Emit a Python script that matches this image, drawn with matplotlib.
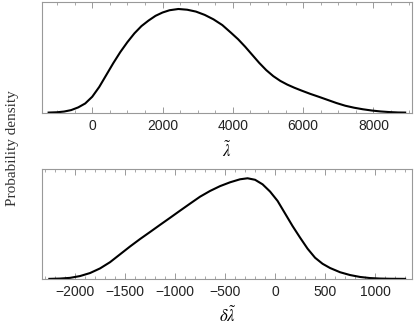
import matplotlib
matplotlib.use('Agg')
import matplotlib.pyplot as plt
from matplotlib.ticker import MultipleLocator

plt.rcParams['mathtext.fontset'] = 'stix'

# top panel: lambda tilde
lam_x = [-1241, -1000, -800, -600, -400, -200, 0, 200, 400, 600, 800, 1000,
         1200, 1400, 1600, 1800, 2000, 2200, 2450, 2700, 2950, 3200, 3450,
         3700, 3950, 4150, 4350, 4550, 4750, 4950, 5150, 5350, 5550, 5750,
         5950, 6200, 6450, 6700, 6950, 7200, 7450, 7700, 7950, 8200, 8450,
         8700, 8903]
lam_y = [0.000, 0.003, 0.010, 0.024, 0.050, 0.088, 0.153, 0.248, 0.363, 0.478,
         0.585, 0.680, 0.765, 0.835, 0.888, 0.934, 0.966, 0.988, 1.000, 0.993,
         0.975, 0.943, 0.900, 0.845, 0.770, 0.708, 0.636, 0.558, 0.480, 0.410,
         0.352, 0.306, 0.270, 0.240, 0.213, 0.181, 0.152, 0.122, 0.092, 0.066,
         0.047, 0.032, 0.020, 0.011, 0.005, 0.001, 0.000]

# bottom panel: delta lambda tilde
dlam_x = [-2257, -2150, -2050, -1950, -1850, -1750, -1650, -1550, -1450, -1350,
          -1250, -1150, -1050, -950, -850, -750, -650, -550, -450, -350, -275,
          -200, -125, -50, 25, 100, 175, 250, 325, 400, 475, 550, 650, 750,
          850, 950, 1050, 1150, 1300]
dlam_y = [0.000, 0.003, 0.010, 0.028, 0.058, 0.104, 0.166, 0.244, 0.322, 0.396,
          0.466, 0.537, 0.607, 0.678, 0.748, 0.817, 0.874, 0.922, 0.960, 0.990,
          1.000, 0.985, 0.940, 0.868, 0.775, 0.650, 0.525, 0.410, 0.300, 0.210,
          0.150, 0.108, 0.066, 0.038, 0.019, 0.008, 0.003, 0.001, 0.000]

fig = plt.figure(figsize=(4.15, 3.25), dpi=100)
ax1 = fig.add_axes([0.102, 0.652, 0.891, 0.342])
ax2 = fig.add_axes([0.102, 0.141, 0.891, 0.338])

frame = '#999999'
for ax, x, y, xlim, ylim, major, minor, lab, lp in [
        (ax1, lam_x, lam_y, (-1420, 9100), (-0.005, 1.068), 2000, 500,
         r'$\tilde{\lambda}$', 6),
        (ax2, dlam_x, dlam_y, (-2327, 1370), (-0.003, 1.089), 500, 100,
         r'$\delta\tilde{\lambda}$', 5)]:
    ax.plot(x, y, color='black', lw=1.5)
    ax.set_xlim(*xlim)
    ax.set_ylim(*ylim)
    ax.xaxis.set_major_locator(MultipleLocator(major))
    ax.xaxis.set_minor_locator(MultipleLocator(minor))
    ax.set_yticks([])
    ax.tick_params(axis='x', which='both', direction='in', top=True,
                   color=frame, labelsize=10, labelcolor='#222222', pad=4)
    ax.tick_params(axis='x', which='major', length=4, width=0.7)
    ax.tick_params(axis='x', which='minor', length=2, width=0.6)
    for lbl in ax.get_xticklabels():
        lbl.set_family('Liberation Sans')
    for s in ax.spines.values():
        s.set_color(frame)
        s.set_linewidth(0.8)
    ax.set_xlabel(lab, fontsize=12, labelpad=lp)

fig.text(0.03, 0.545, 'Probability density', rotation=90, ha='center',
         va='center', family='Liberation Serif', fontsize=11, color='#333333')

fig.savefig('out.png', dpi=100)
